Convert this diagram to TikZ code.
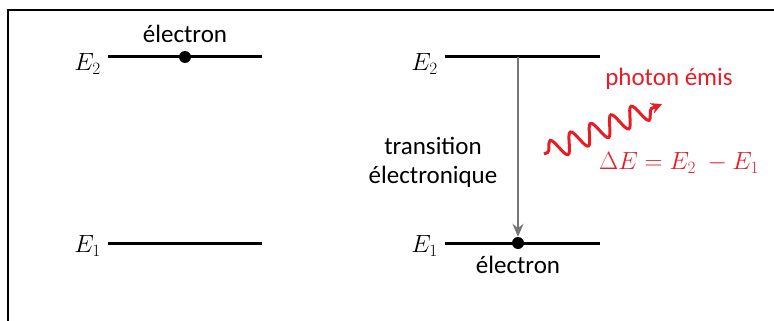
\documentclass[tikz,border=0pt]{standalone}
\usepackage{fontspec}
\setmainfont{Carlito}
\usetikzlibrary{arrows.meta,positioning,decorations.pathmorphing}
\definecolor{photonred}{RGB}{232,28,36}
\definecolor{arrowgray}{RGB}{118,118,118}
\begin{document}
\begin{tikzpicture}[
  x=1pt, y=-1pt, font=\fontsize{25}{29}\selectfont,
  level/.style={line width=3pt},
  elec/.style={circle, fill=black, inner sep=0pt, minimum size=12pt},
  lab/.style={inner sep=1pt, font=\fontsize{27}{30}\selectfont},
  >={Stealth[]}]
\useasboundingbox (0,0) rectangle (774,321);
\draw[line width=2.4pt] (8,321) -- (8,10) -- (774,10);
% left: before
\coordinate (a2l) at (108,57);
\coordinate (a2r) at (262,57);
\coordinate (a1l) at (108,243);
\coordinate (a1r) at (262,243);
\draw[level] (a2l) -- (a2r);
\draw[level] (a1l) -- (a1r);
\node[lab, left=6pt of a2l, yshift=-7pt] (ea2) {$E_2$};
\node[lab, left=6pt of a1l, yshift=-3pt] (ea1) {$E_1$};
\node[elec] (dota) at (185,57) {};
\node[above=5pt of dota] (txta) {électron};
% right: after
\coordinate (b2l) at (445,57);
\coordinate (b2r) at (600,57);
\coordinate (b1l) at (445,243);
\coordinate (b1r) at (600,243);
\draw[level] (b2l) -- (b2r);
\draw[level] (b1l) -- (b1r);
\node[lab, left=6pt of b2l, yshift=-7pt] (eb2) {$E_2$};
\node[lab, left=6pt of b1l, yshift=-3pt] (eb1) {$E_1$};
\coordinate (top) at (518,57);
\node[elec] (dotb) at (518,243) {};
\draw[->, arrowgray, line width=1.8pt, >={Stealth[length=13pt,width=11pt]}] (top) -- (dotb.north);
\node[below=3pt of dotb] (txtb) {électron};
\node[align=center, inner sep=0pt] (trans) at (433,162) {transition\\[0pt]électronique};
% photon
\coordinate (ph0) at (544,154);
\coordinate (ph1) at (662,104);
\draw[photonred, line width=3pt, ->, >={Stealth[length=11pt,width=11pt]},
  decorate, decoration={snake, amplitude=10pt, segment length=22pt, pre length=4pt, post length=10pt}] (ph0) -- (ph1);
\node[photonred] (phlab) at (669,79) {photon émis};
\node[photonred, font=\fontsize{27}{30}\selectfont] (delta) at (679,163) {$\Delta E = E_2\ - E_1$};
\end{tikzpicture}
\end{document}
